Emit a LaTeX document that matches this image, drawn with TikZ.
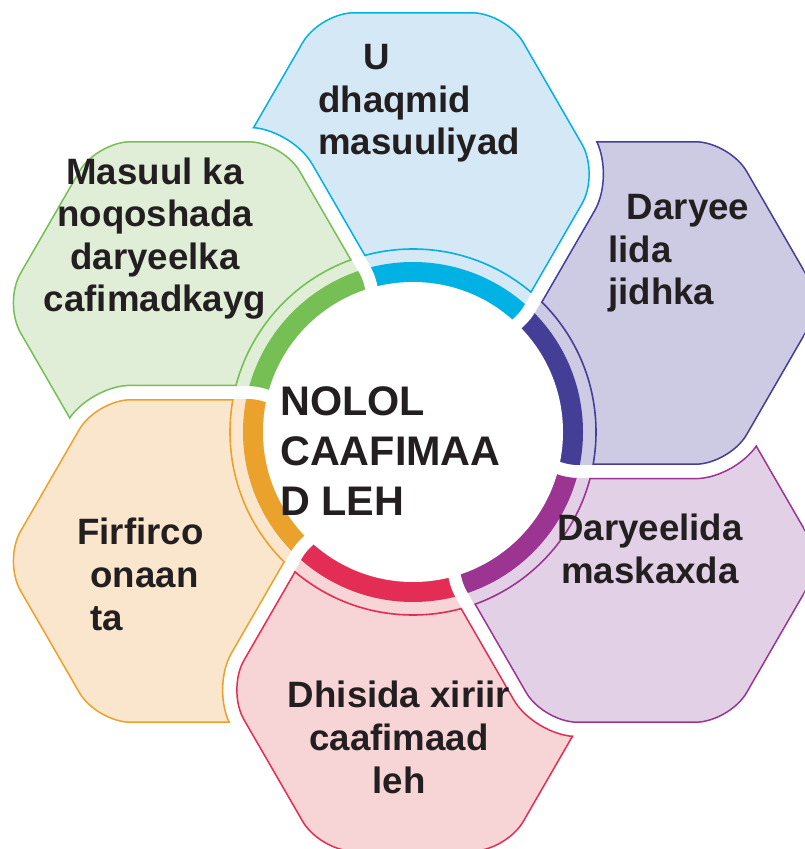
\documentclass[tikz,border=0pt]{standalone}
\usepackage{fontspec}
\setmainfont{Liberation Sans}

\definecolor{cyanS}{HTML}{00B1E4}
\definecolor{cyanP}{HTML}{D5E8F6}
\definecolor{indS}{HTML}{453E97}
\definecolor{indP}{HTML}{CDCBE3}
\definecolor{purS}{HTML}{9C3592}
\definecolor{purP}{HTML}{E2D1E6}
\definecolor{redS}{HTML}{E32D54}
\definecolor{redP}{HTML}{F7D4D5}
\definecolor{oraS}{HTML}{EAA22C}
\definecolor{oraP}{HTML}{FAE6CC}
\definecolor{grnS}{HTML}{75BF55}
\definecolor{grnP}{HTML}{E0EED8}
\definecolor{ink}{HTML}{231F20}

% flat-top hexagon, centre #1, circumradius #2, started mid-edge
\newcommand\hexa[2]{([shift={(#1)}]{0.75*#2},{0.433*#2}) -- ([shift={(#1)}]60:#2) -- ([shift={(#1)}]120:#2) -- ([shift={(#1)}]180:#2) -- ([shift={(#1)}]240:#2) -- ([shift={(#1)}]300:#2) -- ([shift={(#1)}]0:#2) -- cycle}

\begin{document}
\begin{tikzpicture}[x=0.75pt, y=0.75pt,
  lbl/.style={font=\fontsize{27.5}{31.9}\selectfont\bfseries, text=ink, inner sep=0pt, align=left},
  lblc/.style={lbl, align=center},
  hub/.style={font=\fontsize{31}{37.5}\selectfont\bfseries, text=ink, inner sep=0pt, align=left}
  ]
  \fill[white] (-413,-417) rectangle (392,432);
  \clip (-413,-417) rectangle (392,432);

  % petals, each cut by its counter-clockwise neighbour
  \foreach \ang/\sc/\pc in {90/cyanS/cyanP, 30/indS/indP, -30/purS/purP, -90/redS/redP, -150/oraS/oraP, 150/grnS/grnP}{
    \begin{scope}[even odd rule, rounded corners=31.6pt]
      \clip (-2000,-2000) rectangle (2000,2000) \hexa{{\ang+60}:258}{202};
      \begin{scope}[nonzero rule, rounded corners=26pt]
        \clip \hexa{\ang:258}{187};
        \fill[\pc] (-1000,-1000) rectangle (1000,1000);
        \fill[\sc] (0,0) circle (170);
        \draw[\sc, line width=1.2pt] (0,0) circle (183);
        \begin{scope}[even odd rule]
          \clip (-2000,-2000) rectangle (2000,2000) (0,0) circle (183);
          \draw[\sc, line width=2.2pt] \hexa{\ang:258}{187};
          \draw[\sc, line width=2.2pt, rounded corners=31.6pt] \hexa{{\ang+60}:258}{202};
        \end{scope}
      \end{scope}
    \end{scope}
  }

  % hub
  \fill[white] (0,0) circle (150);
  \node[hub, anchor=base west] (hubtext) at (-133,-83) {NOLOL\\CAAFIMAA\\D LEH};

  % labels
  \node[lbl, anchor=base west] (tBlue) at (-95,277) {\hspace*{34pt}U\\dhaqmid\\masuuliyad};
  \node[lbl, anchor=base west] (tInd) at (195,127) {\hspace*{14pt}Daryee\\lida\\jidhka};
  \node[lblc, anchor=base] (tPur) at (237,-151) {Daryeelida\\maskaxda};
  \node[lblc, anchor=base] (tRed) at (-14,-361) {Dhisida xiriir\\caafimaad\\leh};
  \node[lbl, anchor=base west] (tOra) at (-336,-198) {Firfirco\\\hspace*{10pt}onaan\\\hspace*{10pt}ta};
  \node[lblc, anchor=base] (tGrn) at (-258,120) {Masuul ka\\noqoshada\\daryeelka\\cafimadkayg};
\end{tikzpicture}
\end{document}
